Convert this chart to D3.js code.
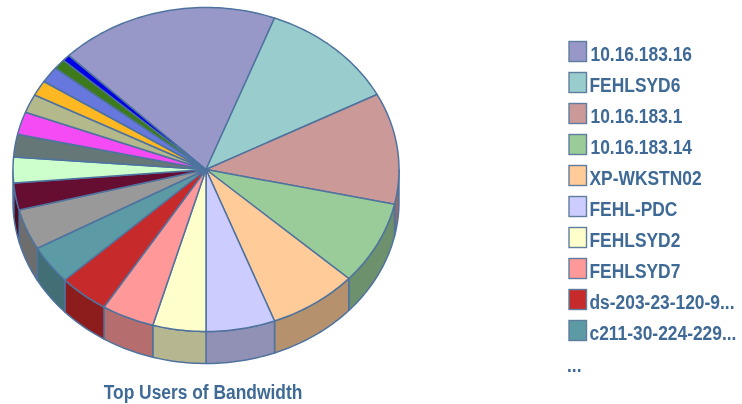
<!DOCTYPE html>
<html><head><meta charset="utf-8">
<script src="https://cdn.jsdelivr.net/npm/d3@7"></script>
<style>html,body{margin:0;background:#fff}svg{display:block}</style></head>
<body><svg id="c" width="742" height="404"></svg>
<script>
const legendNames = ["10.16.183.16","FEHLSYD6","10.16.183.1","10.16.183.14","XP-WKSTN02","FEHL-PDC","FEHLSYD2","FEHLSYD7","ds-203-23-120-9...","c211-30-224-229..."];
const values = [66.1,41.6,40,29.9,26.9,20.8,16,15.9,15.1,13.9,14.6,9.7,9.2,8.2,8.1,6.7,5.5,5.8,3.7,2.3];
const colors = ["#9898c8","#99cccc","#cc9999","#99cc99","#ffcc99","#ccccff","#ffffcc","#ff9999","#c62a2a","#5c9ba5","#999999","#660a33","#ccffcc","#667777","#f44cf4","#b4b98c","#ffb822","#6677dd","#3d7a1f","#0000e6"];
const title = "Top Users of Bandwidth";

const svg = d3.select("#c");
svg.append("defs").append("filter").attr("id","soft").append("feGaussianBlur").attr("stdDeviation",0.55);
const root = svg.append("g").attr("filter","url(#soft)");

const cx=206, cy=169.5, rx=193, ry=162, depth=32, edge="#4f739f";
const px = d3.scaleLinear().domain([-1,1]).range([cx-rx,cx+rx]);
const py = d3.scaleLinear().domain([-1,1]).range([cy-ry,cy+ry]);
const start = -45.3*Math.PI/180;
const arcs = d3.pie().value(d=>d).sort(null).startAngle(start).endAngle(start+2*Math.PI)(values);
const pt = a => [px(Math.sin(a)), py(-Math.cos(a))];
const samples = (a0,a1) => { const n=Math.max(2,Math.ceil(Math.abs(a1-a0)/0.02)); return d3.range(n+1).map(i=>pt(a0+(a1-a0)*i/n)); };
const line = d3.line();
const PI=Math.PI;

// side wall
arcs.forEach((d,i)=>{
  const a0=Math.max(d.startAngle,PI/2), a1=Math.min(d.endAngle,3*PI/2);
  if(a1<=a0) return;
  const top=samples(a0,a1);
  const bottom=top.map(([x,y])=>[x,y+depth]).reverse();
  root.append("path").attr("d",line(top.concat(bottom))+"Z")
    .attr("fill",d3.rgb(colors[i]).darker(0.95)).attr("stroke",edge).attr("stroke-width",1.5).attr("stroke-linejoin","round");
});
// top face
arcs.forEach((d,i)=>{
  root.append("path").attr("d",line([[cx,cy]].concat(samples(d.startAngle,d.endAngle)))+"Z")
    .attr("fill",colors[i]).attr("stroke",edge).attr("stroke-width",1.5).attr("stroke-linejoin","round");
});

// legend
const ly = d3.scalePoint().domain(d3.range(legendNames.length)).range([41,320]);
const textAttrs = s => s.attr("font-family","Liberation Sans").attr("font-weight","bold").attr("font-size",17.4).attr("fill","#3f6a96");
legendNames.forEach((n,i)=>{
  root.append("rect").attr("x",569).attr("y",ly(i)+0.5).attr("width",17.5).attr("height",20)
    .attr("fill",colors[i]).attr("stroke","#5f7d9c").attr("stroke-width",1.4);
  root.append("text").attr("transform",`translate(${/^[0-9]/.test(n)?590.5:589.5},${ly(i)+20}) scale(1,1.16)`)
    .call(textAttrs).text(n);
});
root.append("text").attr("transform","translate(567,372) scale(1,1.16)").call(textAttrs).text("...");
root.append("text").attr("transform","translate(203,399) scale(1,1.16)").attr("text-anchor","middle").call(textAttrs).text(title);
</script></body></html>
